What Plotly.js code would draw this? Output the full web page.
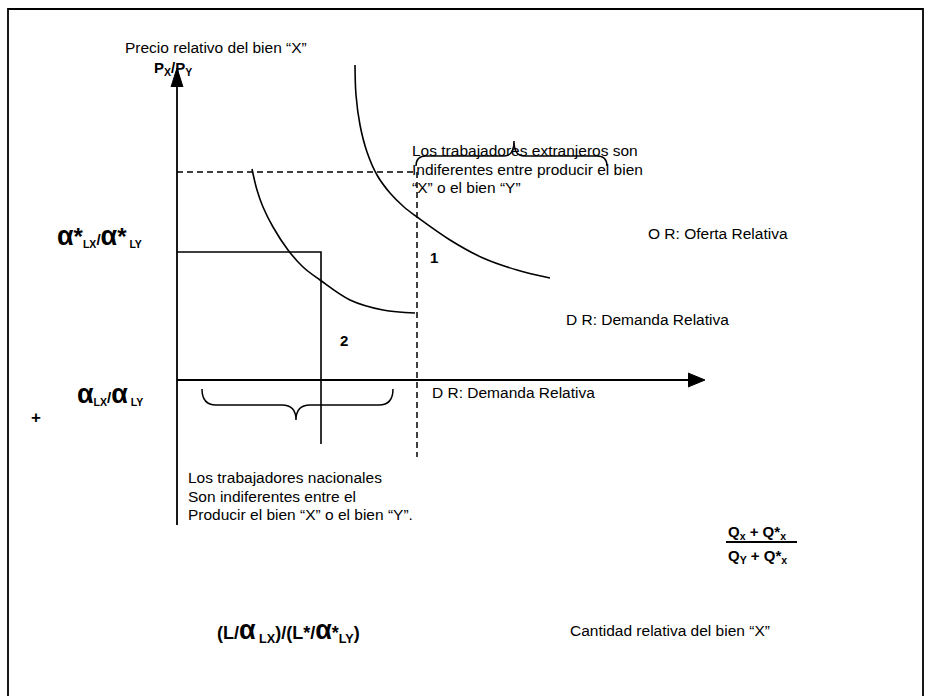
<!DOCTYPE html>
<html>
<head>
<meta charset="utf-8">
<script src="https://cdn.plot.ly/plotly-3.0.1.min.js"></script>
<style>html,body{margin:0;padding:0;background:#fff;}#chart{width:933px;height:696px;}</style>
</head>
<body>
<div id="chart"></div>
<script>
// ---- data (diagram coordinates) ----
const orX = [355, 356, 360, 367, 377, 390, 404, 417, 450, 483, 517, 550];   // O R curve
const orY = [65, 95, 125, 152, 175, 193, 207, 217, 240, 258, 270, 278];
const drX = [252, 257, 263, 273, 288, 303, 320, 350, 383, 415];             // D R curve
const drY = [169, 190, 207, 227, 250, 267, 280, 300, 310, 313];
const yAxisX = [177, 177], yAxisY = [84, 525];
const xAxisX = [177, 690], xAxisY = [380, 380];
const yArrowX = [171, 177, 183], yArrowY = [87, 68, 87];
const xArrowX = [688, 705, 688], xArrowY = [373, 380, 387];
const rectX = [177, 321, 321], rectY = [252, 252, 444];
const dashX = [177, 417, 417], dashY = [172, 172, 457];
const borderX = [8, 8, 923, 923], borderY = [700, 9, 9, 700];
const fracX = [726, 797], fracY = [542, 542];
// braces: [x0, xMid, x1, body, tip, end, radius]
const topBrace = [416, 514, 607, 156, 141, 166, 10];
const botBrace = [202, 296, 393, 405, 420, 389, 14];
// labels
const labels = [
  {t: 'Precio relativo del bien “X”', x: 123, y: 47, s: 15.5},
  {t: '<b>P<sub>X</sub>/P<sub>Y</sub></b>', x: 152, y: 68, s: 15},
  {t: 'Los trabajadores extranjeros son', x: 410, y: 150, s: 15.5},
  {t: 'Indiferentes entre producir el bien', x: 410, y: 169, s: 15.5},
  {t: '“X” o el bien “Y”', x: 410, y: 187, s: 15.5},
  {t: 'O R: Oferta Relativa', x: 646, y: 233, s: 15.5},
  {t: '<b>1</b>', x: 428, y: 257, s: 15},
  {t: 'D R: Demanda Relativa', x: 564, y: 319, s: 15.5},
  {t: '<b>2</b>', x: 338, y: 340, s: 15},
  {t: 'D R: Demanda Relativa', x: 430, y: 392, s: 15.5},
  {t: '<b>+</b>', x: 29, y: 417, s: 17},
  {t: 'Los trabajadores nacionales', x: 186, y: 477, s: 15.5},
  {t: 'Son indiferentes entre el', x: 186, y: 496, s: 15.5},
  {t: 'Producir el bien “X” o el bien “Y”.', x: 186, y: 514, s: 15.5},
  {t: '<b>Q<sub>x</sub> + Q*<sub>x</sub></b>', x: 726, y: 532, s: 15},
  {t: '<b>Q<sub>Y</sub> + Q*<sub>x</sub></b>', x: 726, y: 556, s: 15},
  {t: '<b>(L/<span style="font-size:27px">α</span><sub> LX</sub>)/(L*/<span style="font-size:27px">α</span>*<sub>LY</sub>)</b>', x: 215, y: 630, s: 18},
  {t: 'Cantidad relativa del bien “X”', x: 568, y: 630, s: 15.5},
  {t: '<b><span style="font-size:27px">α</span><span style="font-size:24px">*</span><sub>LX</sub>/<span style="font-size:27px">α</span><span style="font-size:24px">*</span><sub> LY</sub></b>', x: 55, y: 236, s: 15},
  {t: '<b><span style="font-size:27px">α</span><sub>LX</sub>/<span style="font-size:27px">α</span><sub> LY</sub></b>', x: 75, y: 394, s: 15}
];

// ---- build ----
const K = '#000';
function line(x, y, w, dash, shape) {
  return {x: x, y: y, type: 'scatter', mode: 'lines', hoverinfo: 'skip',
    line: {color: K, width: w, dash: dash || 'solid', shape: shape || 'linear', smoothing: 1}};
}
function tri(x, y) {
  return {x: x, y: y, type: 'scatter', mode: 'lines', fill: 'toself', fillcolor: K,
    hoverinfo: 'skip', line: {color: K, width: 1}};
}
function bracePath(b) {
  const [x0, xm, x1, body, tip, end, r] = b;
  return `M${x0},${end} Q${x0},${body} ${x0 + r},${body} L${xm - r},${body} Q${xm},${body} ${xm},${tip} ` +
         `M${xm},${tip} Q${xm},${body} ${xm + r},${body} L${x1 - r},${body} Q${x1},${body} ${x1},${end}`;
}
const traces = [
  line(borderX, borderY, 1.8),
  line(orX, orY, 1.6, 'solid', 'spline'),
  line(drX, drY, 1.6, 'solid', 'spline'),
  line(yAxisX, yAxisY, 1.8),
  line(xAxisX, xAxisY, 1.8),
  tri(yArrowX, yArrowY),
  tri(xArrowX, xArrowY),
  line(rectX, rectY, 1.6),
  line(dashX, dashY, 1.5, '6px,4px'),
  line(fracX, fracY, 1.8)
];
const shapes = [topBrace, botBrace].map(b => ({
  type: 'path', xref: 'x', yref: 'y', path: bracePath(b), line: {color: K, width: 1.5}
}));
const annotations = labels.map(l => ({
  text: l.t, x: l.x, y: l.y, xref: 'x', yref: 'y', xanchor: 'left', yanchor: 'middle',
  showarrow: false, align: 'left', font: {size: l.s, color: K, family: 'Liberation Sans, Arial, sans-serif'}
}));
const layout = {
  width: 933, height: 696, margin: {l: 0, r: 0, t: 0, b: 0},
  paper_bgcolor: '#fff', plot_bgcolor: '#fff', showlegend: false,
  xaxis: {range: [0, 933], visible: false, fixedrange: true},
  yaxis: {range: [696, 0], visible: false, fixedrange: true},
  shapes: shapes, annotations: annotations,
  font: {family: 'Liberation Sans, Arial, sans-serif', color: K}
};
Plotly.newPlot('chart', traces, layout, {displayModeBar: false, staticPlot: true});
</script>
</body>
</html>
